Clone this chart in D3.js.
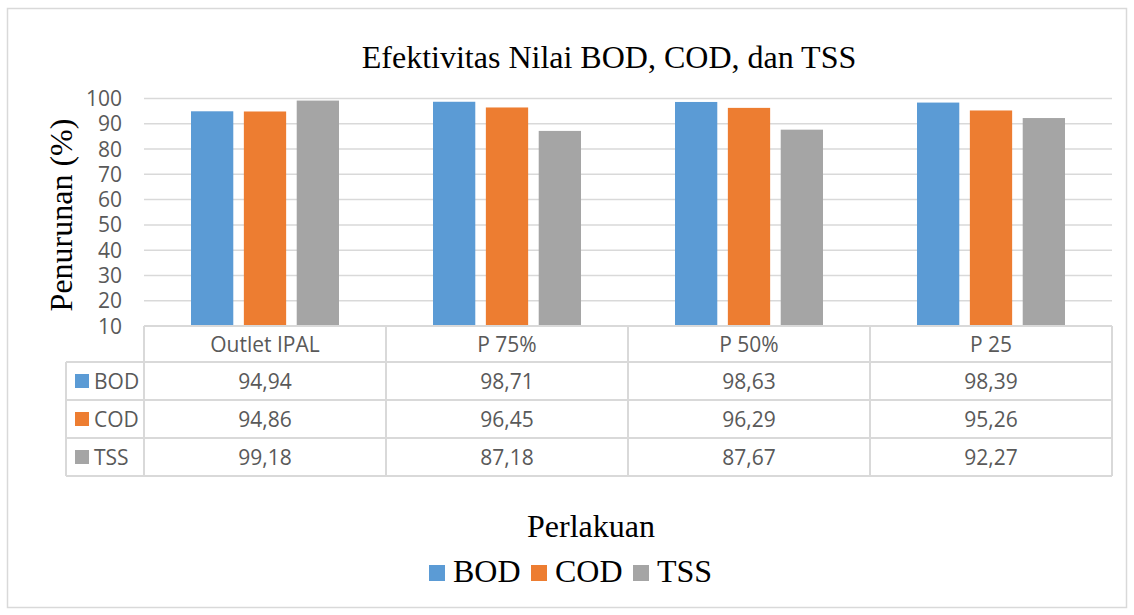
<!DOCTYPE html>
<html>
<head>
<meta charset="utf-8">
<script src="https://cdn.jsdelivr.net/npm/d3@7"></script>
<style>
  body { margin: 0; background: #fff; }
</style>
</head>
<body>
<div id="chart"></div>
<script>
// data
const categories = ["Outlet IPAL", "P 75%", "P 50%", "P 25"];
const seriesNames = ["BOD", "COD", "TSS"];
const bod = [94.94, 98.71, 98.63, 98.39];
const cod = [94.86, 96.45, 96.29, 95.26];
const tss = [99.18, 87.18, 87.67, 92.27];
const yTicks = [10, 20, 30, 40, 50, 60, 70, 80, 90, 100];
const colors = ["#5B9BD5", "#ED7D31", "#A5A5A5"];

const seriesValues = [bod, cod, tss];
const W = 1134, H = 615;
const serif = "'Liberation Serif', 'Times New Roman', serif";
const sans = "'Open Sans', sans-serif";

const svg = d3.select("#chart").append("svg")
    .attr("width", W)
    .attr("height", H);

// outer chart border
svg.append("rect")
    .attr("x", 7.5).attr("y", 8.5)
    .attr("width", 1119).attr("height", 599)
    .attr("fill", "#fff")
    .attr("stroke", "#D9D9D9")
    .attr("stroke-width", 1.5);

const plot = { left: 144, right: 1112, top: 98.5, bottom: 326 };

const x = d3.scaleBand()
    .domain(categories)
    .range([plot.left, plot.right]);

// bars inside a category: 3 x 42px wide with 11px gaps
const xInner = d3.scaleBand()
    .domain(seriesNames)
    .range([47, x.bandwidth() - 47])
    .paddingInner(0.2);

const y = d3.scaleLinear()
    .domain([10, 100])
    .range([plot.bottom, plot.top]);

// gridlines
svg.append("g")
    .selectAll("line")
    .data(yTicks)
    .enter()
    .append("line")
    .attr("x1", plot.left).attr("x2", plot.right)
    .attr("y1", d => y(d)).attr("y2", d => y(d))
    .attr("stroke", "#D9D9D9")
    .attr("stroke-width", 1.5);

// y tick labels
svg.append("g")
    .selectAll("text")
    .data(yTicks)
    .enter()
    .append("text")
    .attr("x", 122)
    .attr("y", d => y(d))
    .attr("dy", "0.36em")
    .attr("text-anchor", "end")
    .attr("font-family", sans)
    .attr("font-size", 21)
    .attr("fill", "#595959")
    .text(d => d);

// bars
const groups = svg.append("g")
    .selectAll("g")
    .data(seriesNames)
    .enter()
    .append("g")
    .attr("fill", (d, i) => colors[i]);

groups.selectAll("rect")
    .data((s, i) => seriesValues[i].map((v, j) => ({ s, cat: categories[j], v })))
    .enter()
    .append("rect")
    .attr("x", d => x(d.cat) + xInner(d.s))
    .attr("width", xInner.bandwidth())
    .attr("y", d => y(d.v))
    .attr("height", d => y(10) - y(d.v));

// data table
const rowH = 38;
const headerTop = plot.bottom;
const headerBottom = 362;
const tableLeft = 66;
const rowY = i => headerBottom + i * rowH;
const tableBottom = rowY(seriesNames.length);
const grid = svg.append("g")
    .attr("stroke", "#D9D9D9")
    .attr("stroke-width", 2)
    .attr("fill", "none");

// vertical lines through header and rows
categories.concat(["_end"]).forEach((c, i) => {
    const xx = i < categories.length ? x(c) : plot.right;
    grid.append("line")
        .attr("x1", xx).attr("x2", xx)
        .attr("y1", headerTop).attr("y2", tableBottom);
});
grid.append("line")
    .attr("x1", tableLeft).attr("x2", tableLeft)
    .attr("y1", headerBottom).attr("y2", tableBottom);
// horizontal lines
grid.append("line")
    .attr("x1", plot.left).attr("x2", plot.right)
    .attr("y1", headerTop).attr("y2", headerTop);
d3.range(seriesNames.length + 1).forEach(i => {
    grid.append("line")
        .attr("x1", tableLeft).attr("x2", plot.right)
        .attr("y1", rowY(i)).attr("y2", rowY(i));
});

// header texts
svg.append("g")
    .selectAll("text")
    .data(categories)
    .enter()
    .append("text")
    .attr("x", d => x(d) + x.bandwidth() / 2)
    .attr("y", (headerTop + headerBottom) / 2)
    .attr("dy", "0.36em")
    .attr("text-anchor", "middle")
    .attr("font-family", sans)
    .attr("font-size", 21)
    .attr("fill", "#595959")
    .text(d => d);

// row labels with legend keys
const rows = svg.append("g")
    .selectAll("g")
    .data(seriesNames)
    .enter()
    .append("g");

rows.append("rect")
    .attr("x", 75)
    .attr("y", (d, i) => rowY(i) + rowH / 2 - 7)
    .attr("width", 14).attr("height", 14)
    .attr("fill", (d, i) => colors[i]);

rows.append("text")
    .attr("x", 94)
    .attr("y", (d, i) => rowY(i) + rowH / 2)
    .attr("dy", "0.36em")
    .attr("font-family", sans)
    .attr("font-size", 21)
    .attr("fill", "#595959")
    .text(d => d);

const fmt = v => v.toFixed(2).replace(".", ",");
rows.selectAll(".val")
    .data((s, i) => seriesValues[i].map((v, j) => ({ i, j, v })))
    .enter()
    .append("text")
    .attr("class", "val")
    .attr("x", d => x(categories[d.j]) + x.bandwidth() / 2)
    .attr("y", d => rowY(d.i) + rowH / 2)
    .attr("dy", "0.36em")
    .attr("text-anchor", "middle")
    .attr("font-family", sans)
    .attr("font-size", 21)
    .attr("fill", "#595959")
    .text(d => fmt(d.v));

// title
svg.append("text")
    .attr("x", 609).attr("y", 68)
    .attr("text-anchor", "middle")
    .attr("font-family", serif)
    .attr("font-size", 32)
    .attr("fill", "#000")
    .text("Efektivitas Nilai BOD, COD, dan TSS");

// y axis title
svg.append("text")
    .attr("transform", "translate(72,215) rotate(-90)")
    .attr("text-anchor", "middle")
    .attr("font-family", serif)
    .attr("font-size", 32)
    .attr("fill", "#000")
    .text("Penurunan (%)");

// x axis title
svg.append("text")
    .attr("x", 591).attr("y", 537)
    .attr("text-anchor", "middle")
    .attr("font-family", serif)
    .attr("font-size", 32)
    .attr("fill", "#000")
    .text("Perlakuan");

// legend
const legend = svg.append("g")
    .attr("transform", "translate(429,565)");
const legendX = [0, 102, 204];
const item = legend.selectAll("g")
    .data(seriesNames)
    .enter()
    .append("g")
    .attr("transform", (d, i) => `translate(${legendX[i]},0)`);
item.append("rect")
    .attr("width", 16).attr("height", 16)
    .attr("fill", (d, i) => colors[i]);
item.append("text")
    .attr("x", 24).attr("y", 17)
    .attr("font-family", serif)
    .attr("font-size", 32)
    .attr("fill", "#000")
    .text(d => d);
</script>
</body>
</html>
